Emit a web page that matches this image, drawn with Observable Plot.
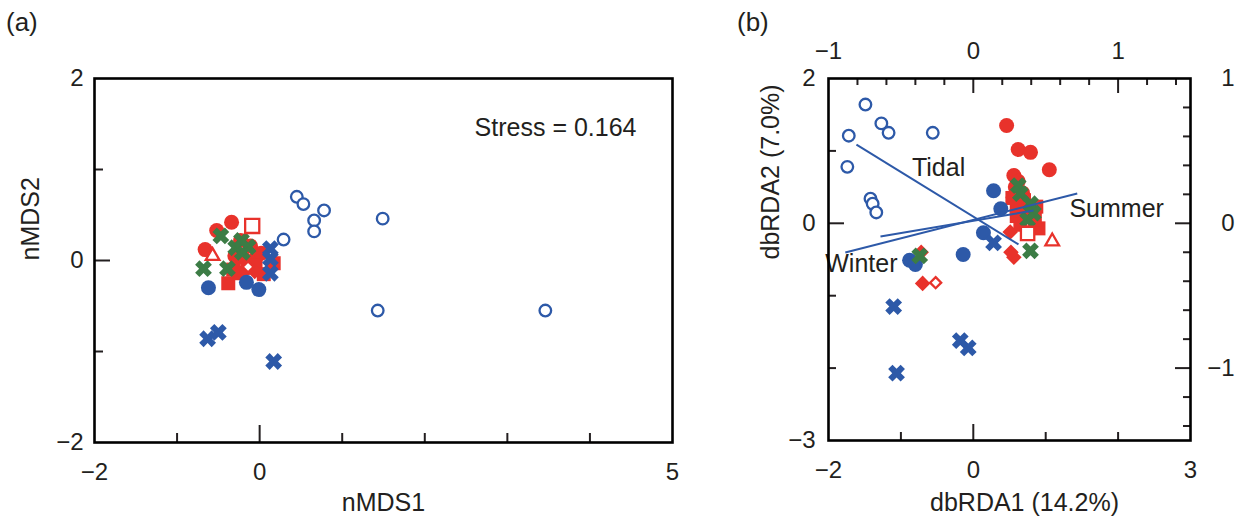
<!DOCTYPE html>
<html>
<head>
<meta charset="utf-8">
<script src="https://cdn.jsdelivr.net/npm/d3@7"></script>
<script src="https://cdn.jsdelivr.net/npm/@observablehq/plot@0.6"></script>
<style>
  html, body { margin: 0; padding: 0; background: #fff; }
  #wrap { position: relative; width: 1247px; height: 529px; overflow: hidden;
          font-family: "Liberation Sans", Arial, Helvetica, sans-serif; color: #231f20; }
  .panel { position: absolute; top: 0; }
  .tag { position: absolute; top: 7px; font-size: 26px; }
</style>
</head>
<body>
<div id="wrap">
  <div class="panel" id="pa" style="left:0"></div>
  <div class="panel" id="pb" style="left:720px"></div>
  <div class="tag" style="left:6px">(a)</div>
  <div class="tag" style="left:737px">(b)</div>
</div>
<script>
// ---------- colours ----------
const RED = "#e8322b", BLUE = "#2d59a8", GREEN = "#3c7c45", INK = "#231f20";

// ---------- (a) nMDS ordination scores [nMDS1, nMDS2] ----------
const nmdsRedCircle   = [[-0.66,0.12],[-0.52,0.33],[-0.34,0.42],[-0.23,0.22],[-0.11,0.16],[-0.20,0.03],[-0.05,0.02],[-0.30,0.05],[-0.15,-0.08],[0.02,0.08]];
const nmdsRedSquare   = [[-0.38,-0.25],[0.17,-0.03],[-0.05,-0.06],[-0.25,-0.14],[-0.32,-0.10],[0.05,-0.15]];
const nmdsRedDiamond  = [[-0.06,-0.12]];
const nmdsRedOpenDiamond = [[-0.14,-0.07]];
const nmdsRedOpenSquare  = [[-0.09,0.38]];
const nmdsRedOpenTriangle = [[-0.57,0.05]];
const nmdsBlueCircle  = [[-0.62,-0.30],[-0.01,-0.32],[-0.16,-0.24]];
const nmdsBlueOpenCircle = [[0.45,0.70],[0.53,0.62],[0.66,0.44],[0.78,0.55],[0.66,0.32],[0.29,0.23],[1.49,0.46],[1.43,-0.55],[3.46,-0.55]];
const nmdsBlueCross   = [[-0.63,-0.86],[-0.50,-0.79],[0.17,-1.11],[0.13,0.13],[0.13,0.02],[0.13,-0.14]];
const nmdsGreenCross  = [[-0.47,0.27],[-0.68,-0.09],[-0.39,-0.09],[-0.29,0.14],[-0.21,0.09],[-0.14,0.15],[-0.22,0.22]];
const nmdsStress = "Stress = 0.164";

// axis ticks for (a)
const nmdsXLabels = [-2, 0, 5], nmdsXMinor = [-1, 1, 2, 3, 4], nmdsXMajor = [0];
const nmdsYLabels = [-2, 0, 2], nmdsYMinor = [-1, 1], nmdsYMajor = [0];

// ---------- (b) dbRDA site scores [dbRDA1, dbRDA2] ----------
const rdaRedCircle   = [[0.46,1.35],[0.62,1.02],[0.79,0.98],[1.05,0.74],[0.56,0.66],[0.58,0.50],[0.55,0.36],[0.68,0.42],[0.62,0.58]];
const rdaRedSquare   = [[0.54,0.35],[0.87,0.23],[0.90,-0.07],[0.60,0.10],[0.70,0.32],[0.60,0.22],[0.75,0.12],[0.65,-0.02],[0.85,0.05]];
const rdaRedDiamond  = [[0.56,-0.47],[0.52,-0.40],[-0.70,-0.83],[-0.72,-0.40],[0.51,-0.12]];
const rdaRedOpenDiamond  = [[-0.52,-0.82]];
const rdaRedOpenSquare   = [[0.75,-0.14]];
const rdaRedOpenTriangle = [[1.09,-0.25]];
const rdaBlueCircle  = [[0.28,0.45],[0.38,0.20],[0.14,-0.13],[-0.14,-0.43],[-0.88,-0.51],[-0.80,-0.57]];
const rdaBlueOpenCircle = [[-1.49,1.64],[-1.72,1.21],[-1.27,1.38],[-1.17,1.25],[-0.56,1.25],[-1.74,0.78],[-1.42,0.34],[-1.39,0.27],[-1.34,0.15]];
const rdaBlueCross   = [[0.28,-0.27],[-1.10,-1.15],[-0.18,-1.62],[-0.07,-1.72],[-1.06,-2.07]];
const rdaGreenCross  = [[-0.74,-0.45],[0.79,-0.38],[0.62,0.52],[0.65,0.41],[0.79,0.27],[0.83,0.14],[0.75,0.05]];

// explanatory-variable vectors, in the top/right (correlation) units
const vectorSegments = [
  {name: "Tidal",  x1: -0.807, y1: 0.544,  x2: 0.312, y2: -0.146},
  {name: "Summer", x1: -0.884, y1: -0.202, x2: 0.718, y2: 0.206},
  {name: "Winter", x1: -0.641, y1: -0.091, x2: 0.416, y2: 0.088}
];
// vector labels: centred ones and the left-aligned one
const vectorLabelsCentered = [
  {name: "Tidal",  x: -0.24,  y: 0.385},
  {name: "Winter", x: -0.773, y: -0.278}
];
const vectorLabelsStart = [
  {name: "Summer", x: 0.664, y: 0.102}
];

// axis ticks for (b): bottom/left in score units, top/right in vector units
const rdaXLabels = [-2, 0, 3], rdaXMinor = [-1, 1, 2], rdaXMajor = [0];
const rdaYLabels = [-3, 0, 2], rdaYMinor = [-2, -1, 1], rdaYMajor = [0];
const vecTopLabels = [-1, 0, 1];
const vecTopMinor = [-0.8,-0.6,-0.4,-0.2,0.2,0.4,0.6,0.8,1.2,1.4], vecTopMajor = [0, 1];
const vecRightLabels = [1, 0, -1];
const vecRightMinor = [0.8,0.6,0.4,0.2,-0.2,-0.4,-0.6,-0.8,-1.2,-1.4], vecRightMajor = [0, -1];
const VEC_TO_SCORE = 2; // vector axes span half the score range

// ---------- helpers ----------
const fmt = d => (d < 0 ? "\u2212" : "") + Math.abs(d);
const TICK_FONT = 24, TEXT_FONT = 25;

// heavy "x" glyph
const fatCross = {
  draw(context, size) {
    const r = Math.sqrt(size / Math.PI), D = r * 1.06, w = r * 0.37, s = Math.SQRT1_2;
    const pts = [[w,D],[w,w],[D,w],[D,-w],[w,-w],[w,-D],[-w,-D],[-w,-w],[-D,-w],[-D,w],[-w,w],[-w,D]]
      .map(([x, y]) => [(x - y) * s, (x + y) * s]);
    context.moveTo(...pts[0]);
    for (let i = 1; i < pts.length; ++i) context.lineTo(...pts[i]);
    context.closePath();
  }
};

function pointMarks(sets) {
  return sets.map(([data, sym, r, color, open]) =>
    Plot.dot(data, {
      x: d => d[0], y: d => d[1], symbol: sym, r,
      fill: open ? "white" : color,
      stroke: open ? color : "none",
      strokeWidth: open ? 2.3 : 0
    }));
}

const fontStyle = {fontFamily: "'Liberation Sans', Arial, Helvetica, sans-serif", fontSize: TICK_FONT + "px", color: INK, background: "transparent", overflow: "visible"};

// ---------- (a) ----------
{
  const mL = 94, mR = 48, mT = 78, mB = 87, W = 720, H = 529;
  const fw = W - mL - mR, fh = H - mT - mB;
  const chart = Plot.plot({
    width: W, height: H, marginLeft: mL, marginRight: mR, marginTop: mT, marginBottom: mB,
    x: {domain: [-2, 5]}, y: {domain: [-2, 2]},
    style: fontStyle,
    marks: [
      ...pointMarks([
        [nmdsRedCircle, "circle", 7.5, RED, false],
        [nmdsRedSquare, "square", 7.9, RED, false],
        [nmdsRedDiamond, "diamond2", 7, RED, false],
        [nmdsBlueCircle, "circle", 7.5, BLUE, false],
        [nmdsGreenCross, fatCross, 8.3, GREEN, false],
        [nmdsBlueCross, fatCross, 8.3, BLUE, false],
        [nmdsRedOpenDiamond, "diamond2", 5, RED, true],
        [nmdsRedOpenSquare, "square2", 9, RED, true],
        [nmdsRedOpenTriangle, "triangle2", 6.5, RED, true],
        [nmdsBlueOpenCircle, "circle", 5.8, BLUE, true]
      ]),
      Plot.tickX(nmdsXMinor, {x: d => d, insetTop: fh - 9, stroke: INK, strokeWidth: 2}),
      Plot.tickX(nmdsXMajor, {x: d => d, insetTop: fh - 17, stroke: INK, strokeWidth: 2}),
      Plot.tickY(nmdsYMinor, {y: d => d, insetRight: fw - 9, stroke: INK, strokeWidth: 2}),
      Plot.tickY(nmdsYMajor, {y: d => d, insetRight: fw - 16, stroke: INK, strokeWidth: 2}),
      Plot.frame({stroke: "#000", strokeWidth: 2.6}),
      Plot.axisX(nmdsXLabels, {anchor: "bottom", tickSize: 0, tickPadding: 20, tickFormat: fmt, label: null}),
      Plot.axisY(nmdsYLabels, {anchor: "left", tickSize: 0, tickPadding: 11, tickFormat: fmt, label: null}),
      Plot.text([nmdsStress], {text: d => d, frameAnchor: "top-right", textAnchor: "end", dx: -36, dy: 40, fontSize: TEXT_FONT}),
      Plot.text(["nMDS1"], {text: d => d, frameAnchor: "bottom", dy: 68, fontSize: TEXT_FONT}),
      Plot.text(["nMDS2"], {text: d => d, frameAnchor: "left", dx: -64, rotate: -90, fontSize: TEXT_FONT})
    ]
  });
  document.getElementById("pa").append(chart);
}

// ---------- (b) ----------
{
  const mL = 108, mR = 57, mT = 78, mB = 89, W = 527, H = 529;
  const fw = W - mL - mR, fh = H - mT - mB;
  const toScore = v => v * VEC_TO_SCORE;
  const chart = Plot.plot({
    width: W, height: H, marginLeft: mL, marginRight: mR, marginTop: mT, marginBottom: mB,
    x: {domain: [-2, 3]}, y: {domain: [-3, 2]},
    style: fontStyle,
    marks: [
      ...pointMarks([
        [rdaRedCircle, "circle", 7.5, RED, false],
        [rdaRedSquare, "square", 7.9, RED, false],
        [rdaRedDiamond, "diamond2", 7, RED, false],
        [rdaBlueCircle, "circle", 7.5, BLUE, false],
        [rdaGreenCross, fatCross, 8.3, GREEN, false],
        [rdaBlueCross, fatCross, 8.3, BLUE, false],
        [rdaRedOpenDiamond, "diamond2", 5, RED, true],
        [rdaRedOpenSquare, "square2", 8.5, RED, true],
        [rdaRedOpenTriangle, "triangle2", 6.5, RED, true],
        [rdaBlueOpenCircle, "circle", 5.8, BLUE, true]
      ]),
      Plot.link(vectorSegments, {
        x1: d => toScore(d.x1), y1: d => toScore(d.y1),
        x2: d => toScore(d.x2), y2: d => toScore(d.y2),
        stroke: BLUE, strokeWidth: 2
      }),
      Plot.text(vectorLabelsCentered, {x: d => toScore(d.x), y: d => toScore(d.y), text: "name",
        textAnchor: "middle", fontSize: TEXT_FONT, fill: INK}),
      Plot.text(vectorLabelsStart, {x: d => toScore(d.x), y: d => toScore(d.y), text: "name",
        textAnchor: "start", fontSize: TEXT_FONT, fill: INK}),
      // bottom / left ticks (score units)
      Plot.tickX(rdaXMinor, {x: d => d, insetTop: fh - 8, stroke: INK, strokeWidth: 2}),
      Plot.tickX(rdaXMajor, {x: d => d, insetTop: fh - 16, stroke: INK, strokeWidth: 2}),
      Plot.tickY(rdaYMinor, {y: d => d, insetRight: fw - 8, stroke: INK, strokeWidth: 2}),
      Plot.tickY(rdaYMajor, {y: d => d, insetRight: fw - 16, stroke: INK, strokeWidth: 2}),
      // top / right ticks (vector units)
      Plot.tickX(vecTopMinor, {x: toScore, insetBottom: fh - 7, stroke: INK, strokeWidth: 2}),
      Plot.tickX(vecTopMajor, {x: toScore, insetBottom: fh - 15, stroke: INK, strokeWidth: 2}),
      Plot.tickY(vecRightMinor, {y: toScore, insetLeft: fw - 7, stroke: INK, strokeWidth: 2}),
      Plot.tickY(vecRightMajor, {y: toScore, insetLeft: fw - 15, stroke: INK, strokeWidth: 2}),
      Plot.frame({stroke: "#000", strokeWidth: 2.6}),
      Plot.axisX(rdaXLabels, {anchor: "bottom", tickSize: 0, tickPadding: 20, tickFormat: fmt, label: null}),
      Plot.axisY(rdaYLabels, {anchor: "left", tickSize: 0, tickPadding: 13, tickFormat: fmt, label: null}),
      Plot.axisX(vecTopLabels.map(toScore), {anchor: "top", tickSize: 0, tickPadding: 20, tickFormat: d => fmt(d / VEC_TO_SCORE), label: null}),
      Plot.axisY(vecRightLabels.map(toScore), {anchor: "right", tickSize: 0, tickPadding: 44, textAnchor: "end", tickFormat: d => fmt(d / VEC_TO_SCORE), label: null}),
      Plot.text(["dbRDA1 (14.2%)"], {text: d => d, frameAnchor: "bottom", dx: 15, dy: 70, fontSize: TEXT_FONT}),
      Plot.text(["dbRDA2 (7.0%)"], {text: d => d, frameAnchor: "left", dx: -58, rotate: -90, fontSize: TEXT_FONT})
    ]
  });
  document.getElementById("pb").append(chart);
}
</script>
</body>
</html>
